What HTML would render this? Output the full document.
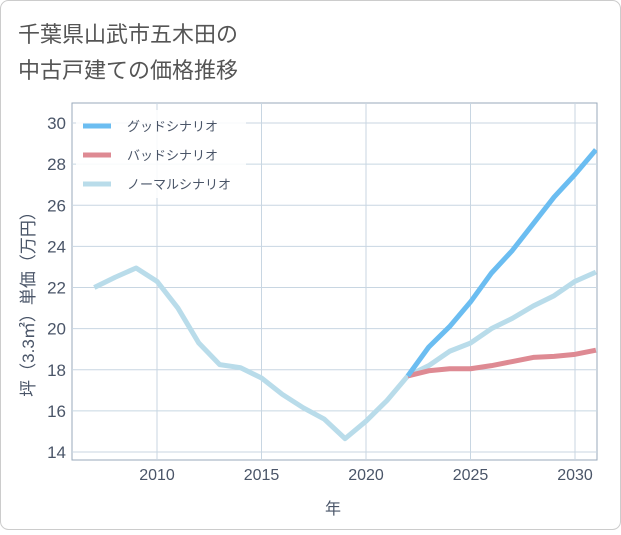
<!DOCTYPE html>
<html><head><meta charset="utf-8"><style>
body{margin:0;background:#fff;}
#wrap{position:relative;width:621px;height:530px;}
text{font-family:"Liberation Sans","Noto Sans CJK JP",sans-serif;}
</style></head><body>
<div id="wrap">
<svg id="svg" width="621" height="530" xmlns="http://www.w3.org/2000/svg">
<rect x="0.5" y="0.5" width="620" height="529" rx="8" fill="#fff" stroke="#ccc"/>
<text x="18" y="42" font-size="22" fill="#555">千葉県山武市五木田の</text>
<text x="18" y="78" font-size="22" fill="#555">中古戸建ての価格推移</text>
<g id="plot"></g>
</svg>
</div>
<script>
const years=[2007,2008,2009,2010,2011,2012,2013,2014,2015,2016,2017,2018,2019,2020,2021,2022,2023,2024,2025,2026,2027,2028,2029,2030,2031];
const normal=[22.0,22.5,22.95,22.3,21.0,19.3,18.25,18.1,17.6,16.8,16.15,15.6,14.65,15.5,16.5,17.7,18.2,18.9,19.3,20.0,20.5,21.1,21.6,22.3,22.75];
const futureYears=[2022,2023,2024,2025,2026,2027,2028,2029,2030,2031];
const good=[17.7,19.1,20.1,21.3,22.7,23.8,25.1,26.4,27.5,28.7];
const bad=[17.7,17.95,18.05,18.05,18.2,18.4,18.6,18.65,18.75,18.95];
const xTicks=[2010,2015,2020,2025,2030];
const yTicks=[14,16,18,20,22,24,26,28,30];
const L=72,R=597,T=103,B=460;
const X=y=>157+(y-2010)*20.9;
const Y=v=>452-(v-14)*20.56;
const ns="http://www.w3.org/2000/svg";
const g=document.getElementById('plot');
const TC='#4a5568';
function mk(t,a,p){const e=document.createElementNS(ns,t);for(const k in a)e.setAttribute(k,a[k]);(p||g).appendChild(e);return e;}
let e;
e=mk('rect',{x:L,y:T,width:R-L,height:B-T,fill:'#fff',stroke:'#9ab'});


xTicks.forEach(t=>{e=mk('line',{x1:X(t),x2:X(t),y1:T,y2:B,stroke:'#c8d6e2'});


e=mk('text',{x:X(t),y:B+20,'font-size':16,fill:TC,'text-anchor':'middle'});e.textContent=t;

});
yTicks.forEach(t=>{e=mk('line',{x1:L,x2:R,y1:Y(t),y2:Y(t),stroke:'#c8d6e2'});


e=mk('text',{x:L-6,y:Y(t)+6,'font-size':17,fill:TC,'text-anchor':'end'});e.textContent=t;

});
const defs=mk('defs',{});const cp=mk('clipPath',{id:'c'},defs);mk('rect',{x:L,y:T,width:R-L,height:B-T},cp);
function line(xs,vs,col,name){e=mk('polyline',{points:xs.map((y,i)=>X(y)+','+Y(vs[i])).join(' '),fill:'none',stroke:col,'stroke-width':5,'stroke-linejoin':'round','clip-path':'url(#c)'});

}
line(years,normal,'#b9dcea','normal-line');
line(futureYears,bad,'#de8a93','bad-line');
line(futureYears,good,'#6bbdf1','good-line');
e=mk('rect',{x:76,y:110,width:170,height:88,fill:'#fff','fill-opacity':0.85});


[['グッドシナリオ','#6bbdf1'],['バッドシナリオ','#de8a93'],['ノーマルシナリオ','#b9dcea']].forEach((d,i)=>{const y=126+i*29;
e=mk('line',{x1:83,x2:111,y1:y,y2:y,stroke:d[1],'stroke-width':5});


e=mk('text',{x:127,y:y+5,'font-size':13,fill:TC});e.textContent=d[0];

});
e=mk('text',{x:333,y:514,'font-size':16,fill:TC,'text-anchor':'middle'});e.textContent='年';


e=mk('text',{x:0,y:0,'font-size':17,fill:TC,'text-anchor':'middle',transform:'translate(34,300) rotate(-90)'});e.textContent='坪（3.3㎡）単価（万円）';


</script>
</body></html>
